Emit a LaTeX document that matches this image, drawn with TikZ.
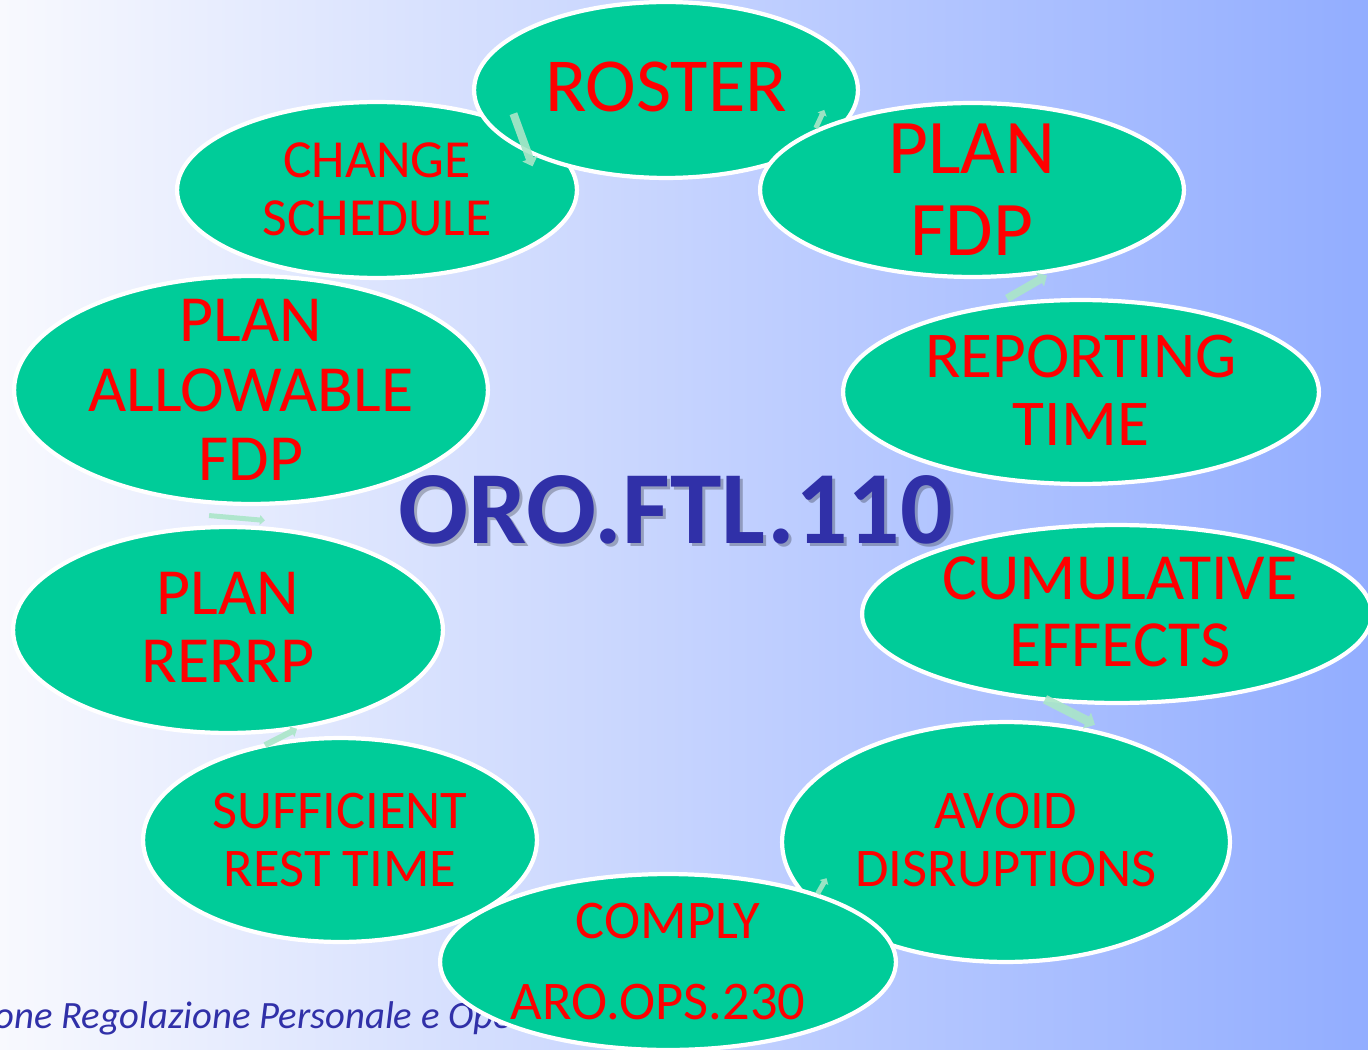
\documentclass[tikz,border=0pt]{standalone}
\usepackage{fontspec}
\setmainfont{Carlito}
\usetikzlibrary{shapes.geometric}
\definecolor{elfill}{RGB}{0,204,153}
\definecolor{txtred}{RGB}{255,0,0}
\definecolor{titleblue}{RGB}{48,48,168}
\definecolor{arrowgreen}{RGB}{170,230,200}
\definecolor{bgleft}{RGB}{248,249,254}
\definecolor{bgright}{RGB}{146,173,255}
\tikzset{
  bubble/.style 2 args={ellipse, fill=elfill, draw=white, line width=2.4pt, inner sep=0pt,
    minimum width={#1*0.04cm}, minimum height={#2*0.04cm}},
  lbl/.style 2 args={text=txtred, align=center, inner sep=0pt,
    font=\fontsize{#1}{#2}\selectfont},
  pics/flowarr/.style 2 args={code={
    \fill[arrowgreen, opacity=0.9]
      (-#1/2,-#2/4) -- (#1/2-#2/2,-#2/4) -- (#1/2-#2/2,-#2/2) -- (#1/2,0)
      -- (#1/2-#2/2,#2/2) -- (#1/2-#2/2,#2/4) -- (-#1/2,#2/4) -- cycle;}},
}
\begin{document}
\begin{tikzpicture}[x=0.02cm,y=-0.02cm]
\useasboundingbox (0,0) rectangle (1368,1050);
\shade[left color=bgleft, right color=bgright] (0,0) rectangle (1368,1050);

% footer text (partly hidden)
\node[anchor=base west, inner sep=0pt, text=titleblue,
  font=\itshape\fontsize{22}{24}\selectfont] (footer) at (-6,1028)
  {one Regolazione Personale e Operazioni};

% ellipses
\node[bubble={200}{88}] (change) at (377,190) {};
\node[bubble={192}{88}] (roster) at (666,90) {};
\node[bubble={212}{87}] (planfdp) at (972,190) {};
\node[bubble={238}{92}] (report) at (1081,392) {};
\node[bubble={255}{89}] (cumul) at (1117,614) {};
\node[bubble={224}{120}] (avoid) at (1006,842) {};
\node[bubble={197}{102}] (rest) at (340,840) {};
\node[bubble={228}{88}] (comply) at (668,962) {};
\node[bubble={215}{103}] (rerrp) at (228,630) {};
\node[bubble={237}{114}] (allow) at (251,390) {};

% labels
\node[lbl={43.5}{48}] (t-roster) at (666,87) {ROSTER};
\node[lbl={44}{46.5}] (t-planfdp) at (972,190) {PLAN\\FDP};
\node[lbl={30.5}{33}] (t-change) at (377,189) {CHANGE\\SCHEDULE};
\node[lbl={37.5}{39.7}] (t-allow) at (251,390) {PLAN\\ALLOWABLE\\FDP};
\node[lbl={37.2}{38.6}] (t-report) at (1081,390) {REPORTING\\TIME};
\node[lbl={37.5}{38}] (t-cumul) at (1120,612) {CUMULATIVE\\EFFECTS};
\node[lbl={37.5}{38.6}] (t-rerrp) at (228,627) {PLAN\\RERRP};
\node[lbl={31}{33}] (t-avoid) at (1006,840) {AVOID\\DISRUPTIONS};
\node[lbl={31}{33}] (t-rest) at (340,840) {SUFFICIENT\\REST TIME};
\node[lbl={31}{33}, anchor=base] (t-comply1) at (668,938) {COMPLY};
\node[lbl={31}{33}, anchor=base] (t-comply2) at (658,1019) {ARO.OPS.230};

% small cycle arrows
\pic[rotate=-70] (a1) at (523,140) {flowarr={56}{16}};
\pic[rotate=65] (a2) at (820,119) {flowarr={20}{10}};
\pic[rotate=30] (a3) at (1027,287) {flowarr={46}{16}};
\pic[rotate=-27] (a4) at (1070,712) {flowarr={56}{18}};
\pic[rotate=60] (a5) at (822,886) {flowarr={18}{10}};
\pic[rotate=27] (a6) at (281,737) {flowarr={36}{12}};
\pic[rotate=-5] (a7) at (237,518) {flowarr={56}{10}};

% title with shadow
\node[anchor=base, inner sep=0pt, text=black, opacity=0.25,
  font=\bfseries\fontsize{59}{60}\selectfont] (title-shadow) at (679,546) {ORO.FTL.110};
\node[anchor=base, inner sep=0pt, text=titleblue,
  font=\bfseries\fontsize{59}{60}\selectfont] (title) at (676,543) {ORO.FTL.110};
\end{tikzpicture}
\end{document}
